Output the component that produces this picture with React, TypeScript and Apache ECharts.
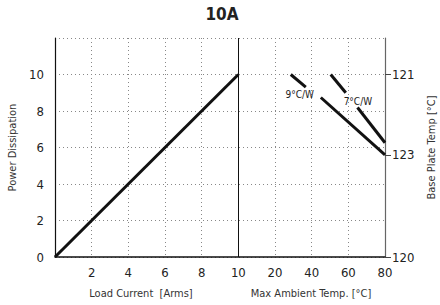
import React, { useEffect, useRef } from "react";
import * as echarts from "echarts";

// Left panel: load current (A) vs power dissipation (W)
const loadCurrent = [0, 10];
const powerDissipation = [0, 10];

// Right panel: ambient temperature (°C) vs power dissipation, with a gap for the label
const temp9a = [28.6, 36.8];
const power9a = [10, 9.31];
const temp9b = [45, 80];
const power9b = [8.74, 5.6];
const temp7a = [50.4, 58.6];
const power7a = [10, 9.0];
const temp7b = [65, 80];
const power7b = [8.19, 6.26];

const lineLabels = ["9°C/W", "7°C/W"];
const labelTemps = [33.5, 65.2];
const labelPowers = [8.9, 8.52];

// Right axis (base plate temp) tick positions and texts
const rightTickPos = [0, 5.6, 10];
const rightTickText = ["120", "123", "121"];

// Broken x axis: 0..10 is current, beyond is temperature (20 per 2 units)
const tempToX = (t: number) => 10 + t / 10;
const xLabel = (v: number) => (v === 0 ? "" : v <= 10 ? String(v) : String((v - 10) * 10));

const FONT = "'DejaVu Sans Condensed', 'Liberation Sans Narrow', sans-serif";

export default function App() {
  const ref = useRef<HTMLDivElement>(null);
  useEffect(() => {
    const chart = echarts.init(ref.current!, null, { renderer: "svg" });
    const pair = (xs: number[], ys: number[], f = (x: number) => x) => xs.map((x, i) => [f(x), ys[i]]);
    const seg = (data: number[][]) => ({
      type: "line",
      data,
      showSymbol: false,
      symbol: "none",
      lineStyle: { color: "#111", width: 3 },
      yAxisIndex: 0,
      z: 5,
    });
    const dotted = { show: true, lineStyle: { color: "#888", type: [1, 3], width: 1 } };
    const staticGraphics: any[] = [
      {
        type: "text",
        x: 222,
        y: 14,
        style: { text: "10A", fontSize: 17, fontWeight: "bold", fill: "#222", align: "center", verticalAlign: "middle", fontFamily: FONT },
      },
      {
        type: "text",
        x: 141,
        y: 293,
        style: { text: "Load Current  [Arms]", fontSize: 11, fill: "#333", align: "center", verticalAlign: "middle", fontFamily: FONT },
      },
      {
        type: "text",
        x: 311,
        y: 293,
        style: { text: "Max Ambient Temp. [°C]", fontSize: 11, fill: "#333", align: "center", verticalAlign: "middle", fontFamily: FONT },
      },
    ];
    chart.setOption({
      animation: false,
      textStyle: { fontFamily: FONT },
      grid: { left: 55, right: 55, top: 38, bottom: 48, outerBoundsMode: "none", containLabel: false },
      xAxis: {
        type: "value",
        min: 0,
        max: 18,
        interval: 2,
        axisLine: { show: true, lineStyle: { color: "#111", width: 1.5 } },
        axisTick: { show: false },
        axisLabel: { formatter: xLabel, fontSize: 13, color: "#222", margin: 9, fontFamily: FONT },
        splitLine: dotted,
      },
      yAxis: [
        {
          type: "value",
          min: 0,
          max: 12,
          interval: 2,
          position: "left",
          axisLine: { show: true, lineStyle: { color: "#111", width: 1.2 } },
          axisTick: { show: false },
          axisLabel: {
            formatter: (v: number) => (v === 12 ? "" : String(v)),
            fontSize: 13,
            color: "#222",
            margin: 11,
            fontFamily: FONT,
          },
          splitLine: dotted,
          name: "Power Dissipation",
          nameLocation: "middle",
          nameGap: 36,
          nameTextStyle: { fontSize: 11, color: "#333", fontFamily: FONT },
        },
        {
          type: "value",
          min: 0,
          max: 12,
          position: "right",
          axisLine: { show: true, lineStyle: { color: "#666", width: 1.2 } },
          axisTick: { show: true, customValues: rightTickPos, length: 6, inside: false, lineStyle: { color: "#444" } },
          axisLabel: {
            customValues: rightTickPos,
            formatter: (v: number) => {
              const i = rightTickPos.findIndex((p) => Math.abs(p - v) < 1e-6);
              return i >= 0 ? rightTickText[i] : "";
            },
            fontSize: 13,
            color: "#222",
            margin: 7,
            fontFamily: FONT,
          },
          splitLine: { show: false },
          name: "Base Plate Temp [°C]",
          nameLocation: "middle",
          nameGap: 41,
          nameTextStyle: { fontSize: 11, color: "#333", fontFamily: FONT },
        },
      ],
      graphic: staticGraphics,
      series: [
        {
          ...seg(pair(loadCurrent, powerDissipation)),
          markLine: {
            silent: true,
            symbol: "none",
            label: { show: false },
            lineStyle: { color: "#111", width: 1, type: "solid" },
            data: [{ xAxis: 10 }],
          },
        },
        seg(pair(temp9a, power9a, tempToX)),
        seg(pair(temp9b, power9b, tempToX)),
        seg(pair(temp7a, power7a, tempToX)),
        seg(pair(temp7b, power7b, tempToX)),
      ],
    });
    const labelGraphics = lineLabels.map((t, i) => {
      const [px, py] = chart.convertToPixel({ gridIndex: 0 }, [tempToX(labelTemps[i]), labelPowers[i]]) as number[];
      return {
        type: "text",
        x: px,
        y: py,
        z: 10,
        style: { text: t, fontSize: 10, fill: "#222", align: "center", verticalAlign: "middle", fontFamily: FONT },
      };
    });
    chart.setOption({ graphic: [...staticGraphics, ...labelGraphics] });
    return () => chart.dispose();
  }, []);
  return <div ref={ref} style={{ position: "fixed", left: 0, top: 0, width: 440, height: 305, background: "#fff" }} />;
}
